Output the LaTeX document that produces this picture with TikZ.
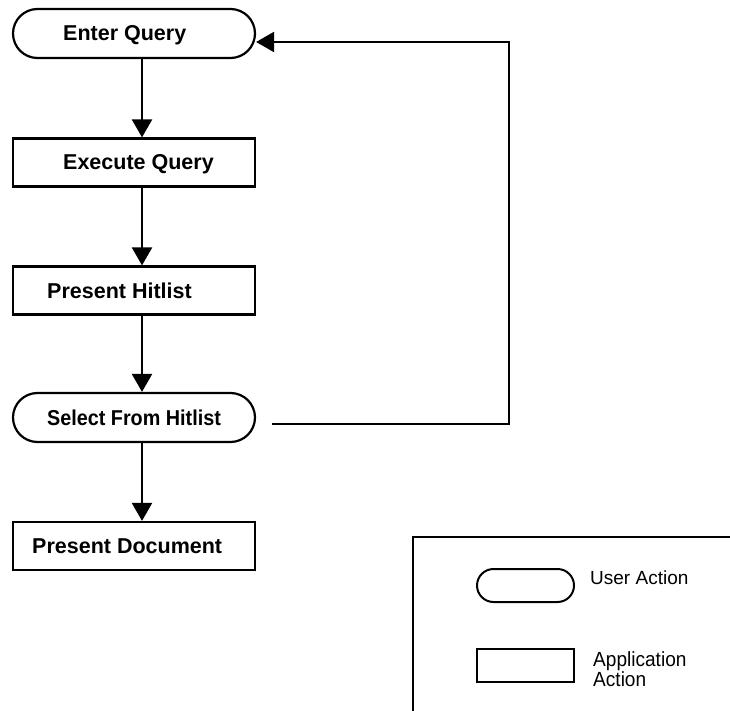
\documentclass[tikz,border=0pt]{standalone}
\usepackage{fontspec}
\setmainfont{Liberation Sans}
\usetikzlibrary{shapes.misc,arrows.meta}

\tikzset{
  flowline/.style={line width=2.2pt},
  flowarrow/.style={flowline,-{Triangle[length=18pt,width=20pt]}},
  useraction/.style={draw,line width=2.2pt,rounded rectangle,
    minimum width=242pt,minimum height=49pt,inner sep=0pt},
  appaction/.style={draw,line width=2.2pt,rectangle,
    minimum width=242pt,minimum height=48pt,inner sep=0pt},
  steplabel/.style={anchor=base west,inner sep=0pt,
    font=\fontsize{21.5}{25}\selectfont\bfseries},
  legendshape/.style={draw,line width=2pt,inner sep=0pt,
    minimum width=97pt,minimum height=33pt},
  legendlabel/.style={anchor=base west,inner sep=0pt,align=left},
}

\begin{document}
\begin{tikzpicture}[x=1pt,y=-1pt]
  \useasboundingbox (0,0) rectangle (730,711);

  % flow steps
  \node[useraction] (enter)  at (134,33.5)  {};
  \node[appaction]  (exec)   at (134,162.5) {};
  \node[appaction]  (hits)   at (134,290.5) {};
  \node[useraction] (select) at (134,417.5) {};
  \node[appaction]  (doc)    at (134,546)   {};

  \node[steplabel] (enterT)  at (63,41)  {Enter Query};
  \node[steplabel] (execT)   at (63,170) {Execute Query};
  \node[steplabel] (hitsT)   at (47,298) {Present Hitlist};
  \node[steplabel] (selectT) at (47,425) {\scalebox{0.92}[1]{Select From Hitlist}};
  \node[steplabel] (docT)    at (32,553.5) {Present Document};

  % vertical connectors
  \coordinate (col) at (142,0);
  \draw[flowarrow] (enter.south -| col) -- (exec.north -| col);
  \draw[flowarrow] (exec.south -| col) -- (hits.north -| col);
  \draw[flowarrow] (hits.south -| col) -- (select.north -| col);
  \draw[flowarrow] (select.south -| col) -- (doc.north -| col);

  % loop back from selection to a new query
  \coordinate (loopstart) at (272,424);
  \coordinate (loopcorner) at (509,42);
  \coordinate (looptip) at ([yshift=-8.5pt]enter.east);
  \draw[flowarrow,line join=miter] (loopstart) -- (loopstart -| loopcorner)
    -- (loopcorner) -- (looptip);

  % legend
  \draw[line width=2pt,line join=miter] (413,716) -- (413,537) -- (735,537);
  \node[legendshape,rounded rectangle] (legUser) at (525.5,585.5) {};
  \node[legendshape,rectangle] (legApp) at (525.5,665.5) {};
  \node[legendlabel,font=\fontsize{19}{20}\selectfont] (legUserT) at (590,584) {User Action};
  \node[legendlabel,font=\fontsize{20.5}{20}\selectfont] (legAppT) at (593,686)
    {\scalebox{0.93}[1]{Application}\\\scalebox{0.93}[1]{Action}};
\end{tikzpicture}
\end{document}
